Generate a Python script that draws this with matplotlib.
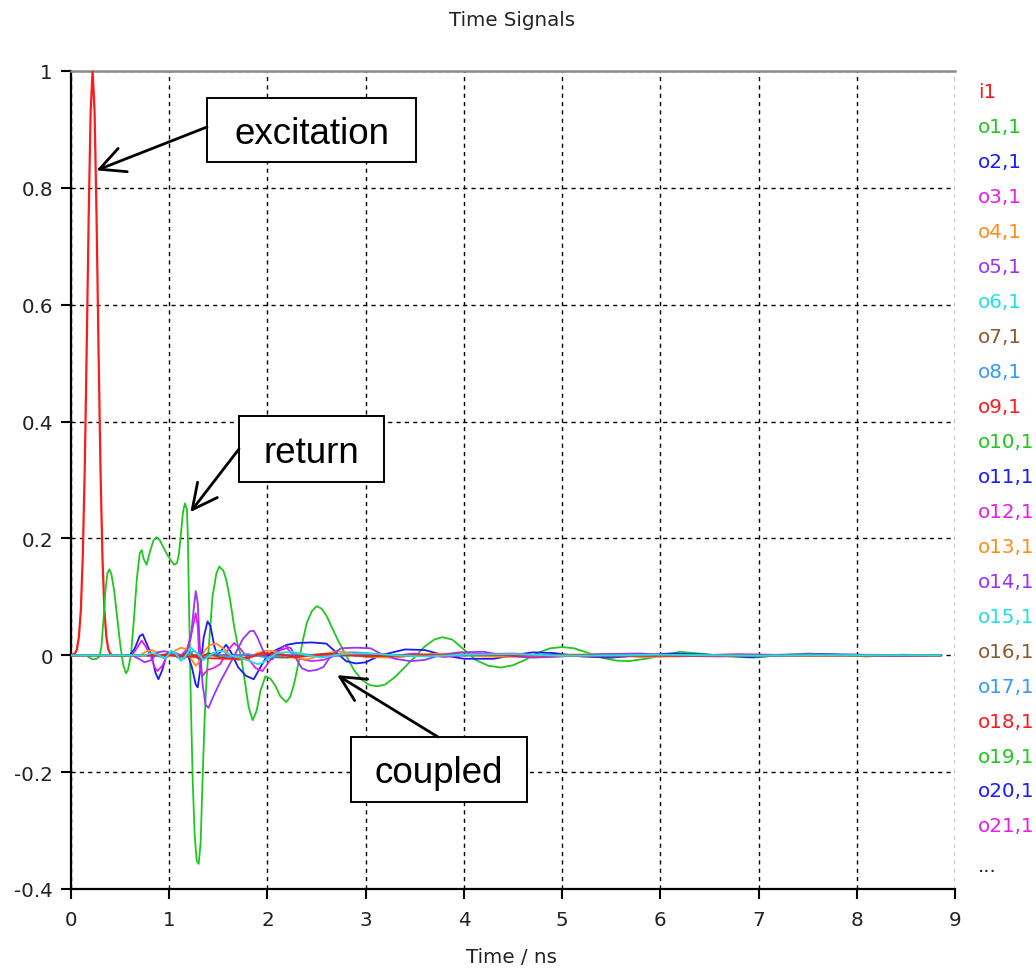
import matplotlib
matplotlib.use("Agg")
import matplotlib.pyplot as plt
from matplotlib.patches import Rectangle

# ---------------- data ----------------
i1_t = [0.00, 0.04, 0.06, 0.08, 0.10, 0.12, 0.14, 0.16, 0.18, 0.20, 0.22,
        0.24, 0.26, 0.28, 0.30, 0.32, 0.34, 0.36, 0.38, 0.40, 0.42, 8.85]
i1_v = [0.0, 0.003, 0.010, 0.031, 0.077, 0.169, 0.320, 0.527, 0.752, 0.931, 1.0,
        0.931, 0.752, 0.527, 0.320, 0.169, 0.077, 0.031, 0.010, 0.003, 0.0, 0.0]

o1_t = [0.00, 0.15, 0.20, 0.22, 0.26, 0.29, 0.31, 0.33, 0.35, 0.37, 0.39, 0.41, 0.44,
        0.47, 0.50, 0.53, 0.56, 0.58, 0.61, 0.64, 0.67, 0.70, 0.72, 0.74, 0.77,
        0.80, 0.84, 0.87, 0.90, 0.94, 0.98, 1.02, 1.05, 1.08, 1.10, 1.12, 1.14,
        1.16, 1.18, 1.19, 1.20, 1.22, 1.24, 1.26, 1.28, 1.30, 1.32, 1.34, 1.36,
        1.38, 1.41, 1.44, 1.48, 1.51, 1.55, 1.58, 1.62, 1.66, 1.70, 1.73, 1.77,
        1.81, 1.85, 1.89, 1.93, 1.98, 2.03, 2.08, 2.13, 2.19, 2.23, 2.27, 2.32,
        2.36, 2.40, 2.45, 2.50, 2.55, 2.60, 2.65, 2.72, 2.80, 2.88, 2.96, 3.04,
        3.12, 3.20, 3.30, 3.40, 3.50, 3.60, 3.70, 3.78, 3.88, 4.00, 4.12, 4.25,
        4.38, 4.50, 4.62, 4.75, 4.88, 5.00, 5.12, 5.25, 5.40, 5.55, 5.68, 5.85,
        6.00, 6.20, 6.45, 6.70, 6.95, 7.20, 7.50, 7.80, 8.10, 8.45, 8.85]
o1_v = [0.0, 0.0, -0.005, -0.007, -0.006, -0.002, 0.015, 0.06, 0.11, 0.14, 0.147,
        0.14, 0.11, 0.065, 0.02, -0.015, -0.031, -0.025, 0.0, 0.06, 0.13, 0.175,
        0.18, 0.165, 0.155, 0.175, 0.197, 0.202, 0.198, 0.185, 0.172, 0.162,
        0.155, 0.158, 0.175, 0.21, 0.245, 0.26, 0.25, 0.20, 0.10, -0.08, -0.22,
        -0.31, -0.352, -0.357, -0.32, -0.21, -0.11, -0.04, 0.03, 0.10, 0.14,
        0.152, 0.145, 0.13, 0.095, 0.05, 0.015, 0.0, -0.045, -0.09, -0.111,
        -0.095, -0.06, -0.036, -0.04, -0.052, -0.07, -0.08, -0.072, -0.05, -0.01,
        0.025, 0.055, 0.075, 0.084, 0.08, 0.068, 0.05, 0.025, 0.0, -0.025, -0.042,
        -0.051, -0.053, -0.05, -0.037, -0.02, -0.003, 0.015, 0.027, 0.031, 0.027,
        0.01, -0.008, -0.018, -0.021, -0.017, -0.008, 0.004, 0.012, 0.014, 0.012,
        0.005, -0.004, -0.009, -0.010, -0.006, -0.001, 0.006, 0.002, -0.002,
        -0.004, 0.0, 0.003, 0.001, -0.002, 0.001, 0.0]

o2_t = [0.00, 0.60, 0.65, 0.70, 0.73, 0.77, 0.82, 0.86, 0.89, 0.93, 0.97, 1.05,
        1.12, 1.18, 1.23, 1.27, 1.29, 1.32, 1.35, 1.39, 1.42, 1.46, 1.49, 1.53,
        1.58, 1.63, 1.70, 1.78, 1.86, 1.93, 2.00, 2.10, 2.20, 2.30, 2.45, 2.60,
        2.70, 2.80, 2.90, 3.00, 3.15, 3.40, 3.60, 3.80, 4.00, 4.30, 4.50, 4.70,
        4.90, 5.20, 5.50, 5.80, 6.10, 6.50, 6.90, 7.30, 7.60, 8.00, 8.40, 8.85]
o2_v = [0.0, 0.0, 0.012, 0.033, 0.036, 0.02, 0.0, -0.03, -0.041, -0.025, 0.0,
        0.004, -0.002, 0.005, -0.02, -0.05, -0.055, -0.02, 0.03, 0.058, 0.05,
        0.015, 0.0, 0.008, 0.018, 0.005, -0.02, -0.035, -0.041, -0.02, 0.0, 0.01,
        0.018, 0.021, 0.022, 0.02, 0.005, -0.01, -0.014, -0.012, 0.0, 0.01, 0.009,
        0.0, -0.006, -0.006, 0.0, 0.005, 0.004, -0.002, -0.004, 0.0, 0.003, 0.001,
        -0.003, 0.0, 0.002, 0.001, -0.001, 0.0]

o3_t = [0.00, 0.62, 0.67, 0.72, 0.76, 0.81, 0.85, 0.88, 0.93, 0.98, 1.05, 1.12,
        1.18, 1.23, 1.27, 1.29, 1.31, 1.34, 1.39, 1.45, 1.52, 1.58, 1.66, 1.72,
        1.80, 1.88, 1.95, 2.02, 2.10, 2.20, 2.30, 2.45, 2.57, 2.70, 2.85, 3.00,
        3.20, 3.50, 3.80, 4.10, 4.50, 4.90, 5.30, 5.70, 6.20, 6.80, 7.40, 8.00, 8.85]
o3_v = [0.0, 0.0, 0.012, 0.025, 0.015, 0.0, -0.02, -0.027, -0.018, 0.0, 0.005,
        0.0, 0.01, 0.04, 0.072, 0.05, -0.02, -0.035, -0.025, -0.022, -0.015,
        0.005, 0.021, 0.012, -0.005, -0.022, -0.027, -0.01, 0.008, 0.012, -0.005,
        -0.01, -0.008, 0.0, 0.005, 0.004, -0.002, 0.003, -0.003, 0.002, 0.003,
        -0.002, 0.001, 0.002, -0.001, 0.002, 0.0, 0.001, 0.0]

o4_t = [0.00, 0.70, 0.76, 0.82, 0.88, 0.94, 1.00, 1.06, 1.12, 1.18, 1.23, 1.27,
        1.31, 1.36, 1.42, 1.48, 1.55, 1.62, 1.70, 1.80, 1.90, 2.00, 2.10, 2.25,
        2.40, 2.55, 2.70, 2.85, 3.00, 3.30, 3.60, 3.90, 4.20, 4.60, 5.00, 5.40,
        5.80, 6.20, 6.60, 7.00, 7.50, 8.00, 8.85]
o4_v = [0.0, 0.0, 0.006, 0.009, 0.004, -0.005, -0.002, 0.008, 0.013, 0.01,
        -0.008, -0.018, -0.01, 0.008, 0.018, 0.02, 0.012, 0.0, -0.008, -0.006,
        0.004, 0.008, 0.006, -0.004, -0.007, 0.0, 0.007, 0.004, -0.003, -0.004,
        0.002, 0.003, -0.002, -0.003, 0.001, 0.002, -0.003, -0.002, 0.001, 0.001,
        -0.001, 0.0, 0.0]

o5_t = [0.00, 0.62, 0.68, 0.75, 0.82, 0.88, 0.95, 1.02, 1.10, 1.17, 1.22, 1.25,
        1.27, 1.29, 1.31, 1.34, 1.37, 1.40, 1.45, 1.52, 1.60, 1.68, 1.75, 1.82,
        1.86, 1.90, 1.95, 2.00, 2.05, 2.10, 2.17, 2.24, 2.30, 2.35, 2.42, 2.50,
        2.57, 2.65, 2.75, 2.90, 3.05, 3.15, 3.30, 3.45, 3.60, 3.75, 3.95, 4.20,
        4.40, 4.70, 5.00, 5.40, 5.80, 6.20, 6.60, 7.00, 7.50, 8.00, 8.40, 8.85]
o5_v = [0.0, 0.0, -0.005, -0.012, -0.008, 0.005, 0.007, 0.004, -0.005, 0.0,
        0.03, 0.08, 0.11, 0.09, 0.02, -0.05, -0.085, -0.09, -0.07, -0.045, -0.02,
        0.005, 0.028, 0.041, 0.042, 0.03, 0.01, -0.004, -0.007, 0.005, 0.016,
        0.012, -0.008, -0.022, -0.027, -0.025, -0.02, 0.0, 0.012, 0.013, 0.012,
        0.003, -0.006, -0.01, -0.008, 0.0, 0.005, 0.006, 0.0, -0.004, -0.002,
        0.002, 0.003, -0.001, -0.002, 0.0, 0.002, 0.0, -0.001, 0.0]

o6_t = [0.00, 0.75, 0.82, 0.90, 0.96, 1.02, 1.07, 1.12, 1.17, 1.22, 1.28, 1.35,
        1.42, 1.49, 1.56, 1.63, 1.72, 1.82, 1.90, 1.95, 2.02, 2.10, 2.25, 2.40,
        2.55, 2.75, 3.00, 3.30, 3.60, 4.00, 4.50, 5.00, 5.50, 6.00, 6.50, 7.00,
        7.50, 8.00, 8.85]
o6_v = [0.0, 0.0, 0.004, 0.0, -0.006, 0.008, 0.002, -0.01, 0.0, 0.013, 0.004,
        -0.008, 0.0, 0.008, 0.006, 0.0, -0.004, -0.01, -0.015, -0.013, -0.004,
        0.004, 0.006, 0.0, -0.004, 0.002, 0.004, 0.0, -0.002, 0.001, 0.002,
        -0.001, 0.0, 0.001, 0.0, -0.001, 0.0, 0.0, 0.0]

o7_t = [0.00, 0.90, 1.00, 1.10, 1.20, 1.30, 1.40, 1.50, 1.60, 1.70, 1.80, 1.90,
        2.00, 2.20, 2.40, 2.60, 2.80, 3.00, 3.50, 4.00, 5.00, 8.85]
o7_v = [0.0, 0.0, 0.003, -0.004, 0.006, -0.006, 0.004, -0.003, -0.005, -0.006,
        -0.004, 0.002, -0.003, -0.004, 0.0, 0.003, 0.001, -0.002, 0.0, 0.001,
        0.0, 0.0]

o8_t = [0.00, 0.85, 0.95, 1.05, 1.15, 1.25, 1.35, 1.45, 1.60, 1.80, 2.00, 2.30,
        2.60, 3.00, 3.50, 4.50, 5.50, 6.50, 7.50, 8.85]
o8_v = [0.0, 0.0, -0.004, 0.005, -0.006, 0.008, -0.005, 0.004, -0.003, 0.002,
        -0.004, 0.003, -0.002, 0.002, -0.001, 0.001, -0.002, 0.0, 0.001, 0.0]

o9_t = [0.00, 1.00, 1.20, 1.40, 1.60, 1.80, 1.95, 2.10, 2.30, 2.60, 3.00, 4.00,
        5.00, 8.85]
o9_v = [0.0, 0.0, -0.002, -0.005, -0.006, -0.005, 0.004, 0.002, -0.003, 0.002,
        -0.001, 0.001, -0.001, 0.0]

legend_labels = ["i1"] + ["o%d,1" % k for k in range(1, 22)]
palette = ["#ff1a1a", "#1ec81e", "#1a1aff", "#e61ee6", "#ff8c1a",
           "#9933ff", "#1ee1e1", "#8b5a2b", "#3399ff"]

ytick_values = [-0.4, -0.2, 0, 0.2, 0.4, 0.6, 0.8, 1]
ytick_labels = ["-0.4", "-0.2", "0", "0.2", "0.4", "0.6", "0.8", "1"]
xtick_values = [0, 1, 2, 3, 4, 5, 6, 7, 8, 9]
xtick_labels = ["0", "1", "2", "3", "4", "5", "6", "7", "8", "9"]

# ---------------- figure ----------------
W, H = 1036, 970
fig = plt.figure(figsize=(W / 100, H / 100), dpi=100)
ax = fig.add_axes([71 / W, 80 / H, 884 / W, 818 / H])

txt_color = "#222222"
tick_font = dict(family="DejaVu Sans", size=14.3)

series = [(i1_t, i1_v), (o1_t, o1_v), (o2_t, o2_v), (o3_t, o3_v), (o4_t, o4_v),
          (o5_t, o5_v), (o6_t, o6_v), (o7_t, o7_v), (o8_t, o8_v), (o9_t, o9_v)]
for k, (t, v) in enumerate(series):
    z = 3 if k != 6 else 3.5
    lw = 1.6 if k == 0 else 1.3
    ax.plot(t, v, color=palette[k % len(palette)], lw=lw, zorder=z)

ax.set_xlim(0, 9)
ax.set_ylim(-0.4, 1)
ax.set_xticks(xtick_values)
ax.set_xticklabels(xtick_labels, **tick_font, color=txt_color)
ax.set_yticks(ytick_values)
ax.set_yticklabels(ytick_labels, **tick_font, color=txt_color)
ax.tick_params(axis="both", direction="out", length=7, width=1.5, color="black")
ax.tick_params(axis="x", pad=8)
ax.tick_params(axis="y", pad=6)

ax.grid(True, color="black", linestyle=(0, (3, 3)), linewidth=1.0, zorder=1)
ax.set_axisbelow(True)

for s in ["left", "bottom"]:
    ax.spines[s].set_color("black")
    ax.spines[s].set_linewidth(1.6)
ax.spines["top"].set_color("#8c8c8c")
ax.spines["top"].set_linewidth(1.8)
ax.spines["right"].set_visible(False)

fig.text(512 / W, 1 - 20 / H, "Time Signals", ha="center", va="center",
         color=txt_color, **tick_font)
fig.text(512 / W, 1 - 958 / H, "Time / ns", ha="center", va="center",
         color=txt_color, **tick_font)

# legend (coloured labels only)
for k, lab in enumerate(legend_labels):
    fig.text(978 / W, 1 - (93 + 34.95 * k) / H, lab, ha="left", va="center",
             color=palette[k % len(palette)], **tick_font)
fig.text(978 / W, 1 - 866 / H, "...", ha="left", va="center",
         color=txt_color, **tick_font)

# ---------------- annotations ----------------
def fx(px):
    return (px - 71) / 884.0


def fy(py):
    return (890 - py) / 818.0


ann_font = dict(family="Liberation Sans", size=26.5, color="black")
boxes = [
    ("excitation", (207, 416, 99, 163), (207, 128), (0.26, 0.83)),
    ("return", (239, 384, 417, 483), (239, 450), (1.215, 0.245)),
    ("coupled", (351, 527, 738, 803), (438, 738), (2.71, -0.034)),
]
for label, (x0, x1, y0, y1), start, tip in boxes:
    rect = Rectangle((fx(x0), fy(y1)), fx(x1) - fx(x0), fy(y0) - fy(y1),
                     transform=ax.transAxes, facecolor="white",
                     edgecolor="black", lw=1.4, zorder=6, clip_on=False)
    ax.add_patch(rect)
    ax.text((fx(x0) + fx(x1)) / 2, (fy(y0) + fy(y1)) / 2 - 0.004, label,
            transform=ax.transAxes, ha="center", va="center", zorder=7,
            **ann_font)
    ax.annotate("", xy=tip, xycoords="data",
                xytext=(fx(start[0]), fy(start[1])), textcoords="axes fraction",
                arrowprops=dict(arrowstyle="->,head_length=0.9,head_width=0.45",
                                lw=2.0, color="black", mutation_scale=20,
                                shrinkA=0, shrinkB=0),
                zorder=8)

fig.savefig("out.png", dpi=100)
